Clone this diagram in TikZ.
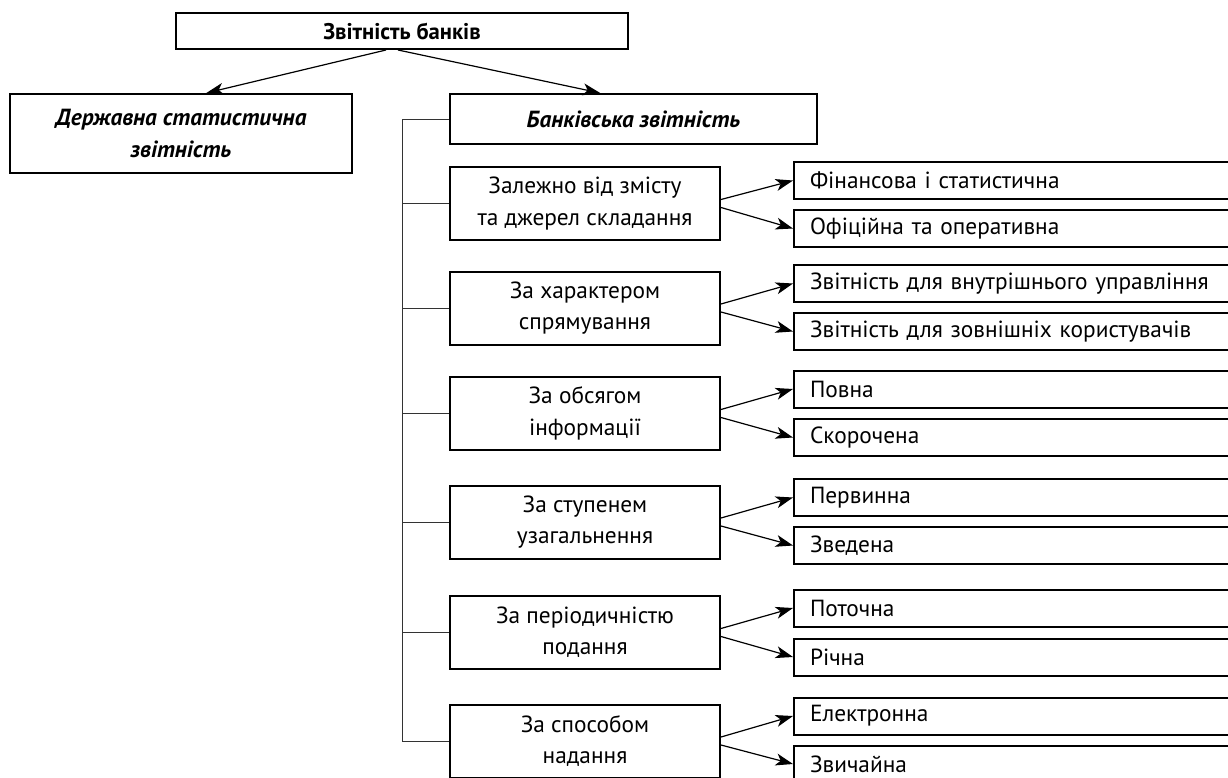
\documentclass[tikz,border=0pt]{standalone}
\usepackage{fontspec}
\setmainfont{PT Sans}
\usepackage{tikz}
\usetikzlibrary{arrows.meta,calc}

\begin{document}
\begin{tikzpicture}[x=0.75pt,y=-0.75pt,
  box/.style={draw=black,line width=1.5pt,fill=white,align=center,inner sep=0pt,
    font=\fontsize{17.5}{23.5}\selectfont},
  catbox/.style={box,minimum width=202.5pt,minimum height=54.75pt},
  leafbox/.style={box,anchor=west,align=left,text width=306pt,inner xsep=12pt,
    minimum height=27.75pt},
  arr/.style={-{Stealth[length=13pt,width=9pt,inset=3.5pt]},line width=0.9pt},
  tree/.style={line width=0.6pt,black!80}]
\useasboundingbox[fill=white] (0,0) rectangle (1228,778);

\node[box,font=\bfseries\fontsize{17}{20}\selectfont,minimum width=339pt,minimum height=27pt] (banks) at (402,31) {Звітність банків};
\node[box,font=\bfseries\itshape\fontsize{17.5}{24}\selectfont,minimum width=256.5pt,minimum height=59.25pt] (state) at (181,133.5) {Державна статистична\\звітність};
\node[box,font=\bfseries\itshape\fontsize{17.5}{24}\selectfont,minimum width=275.25pt,minimum height=37.5pt] (bank) at (633.5,119) {Банківська звітність};

\node[catbox] (content) at (585,203.5) {Залежно від змісту\\та джерел складання};
\node[catbox] (direction) at (585,308) {За характером\\спрямування};
\node[catbox] (volume) at (585,413.5) {За обсягом\\інформації};
\node[catbox] (degree) at (585,522) {За ступенем\\узагальнення};
\node[catbox] (period) at (585,632.5) {За періодичністю\\подання};
\node[catbox] (method) at (585,741) {За способом\\надання};

\node[leafbox] (financial) at (793,180.5) {Фінансова і статистична};
\node[leafbox] (official) at (793,228.5) {Офіційна та оперативна};
\node[leafbox] (internal) at (793,283.5) {Звітність для внутрішнього управління};
\node[leafbox] (external) at (793,331.5) {Звітність для зовнішніх користувачів};
\node[leafbox] (full) at (793,389) {Повна};
\node[leafbox] (short) at (793,437.5) {Скорочена};
\node[leafbox] (primary) at (793,497.5) {Первинна};
\node[leafbox] (summary) at (793,545.5) {Зведена};
\node[leafbox] (current) at (793,608) {Поточна};
\node[leafbox] (annual) at (793,657) {Річна};
\node[leafbox] (electronic) at (793,716) {Електронна};
\node[leafbox] (ordinary) at (793,764) {Звичайна};

\draw[arr] ([xshift=-12pt]banks.south) -- ([xshift=19pt]state.north);
\draw[arr] ([xshift=-3pt]banks.south) -- ([xshift=-25pt]bank.north);

\coordinate (spine) at (402,119);
\draw[tree] (bank.west) -- (spine) -- (spine |- method.west);
\draw[tree] (spine |- content.west) -- (content.west);
\draw[tree] (spine |- direction.west) -- (direction.west);
\draw[tree] (spine |- volume.west) -- (volume.west);
\draw[tree] (spine |- degree.west) -- (degree.west);
\draw[tree] (spine |- period.west) -- (period.west);
\draw[tree] (spine |- method.west) -- (method.west);

\draw[arr] ([yshift=3pt]content.east) -- (financial.west);
\draw[arr] ([yshift=-3pt]content.east) -- (official.west);
\draw[arr] ([yshift=3pt]direction.east) -- (internal.west);
\draw[arr] ([yshift=-3pt]direction.east) -- (external.west);
\draw[arr] ([yshift=3pt]volume.east) -- (full.west);
\draw[arr] ([yshift=-3pt]volume.east) -- (short.west);
\draw[arr] ([yshift=3pt]degree.east) -- (primary.west);
\draw[arr] ([yshift=-3pt]degree.east) -- (summary.west);
\draw[arr] ([yshift=3pt]period.east) -- (current.west);
\draw[arr] ([yshift=-3pt]period.east) -- (annual.west);
\draw[arr] ([yshift=3pt]method.east) -- (electronic.west);
\draw[arr] ([yshift=-3pt]method.east) -- (ordinary.west);
\end{tikzpicture}
\end{document}
